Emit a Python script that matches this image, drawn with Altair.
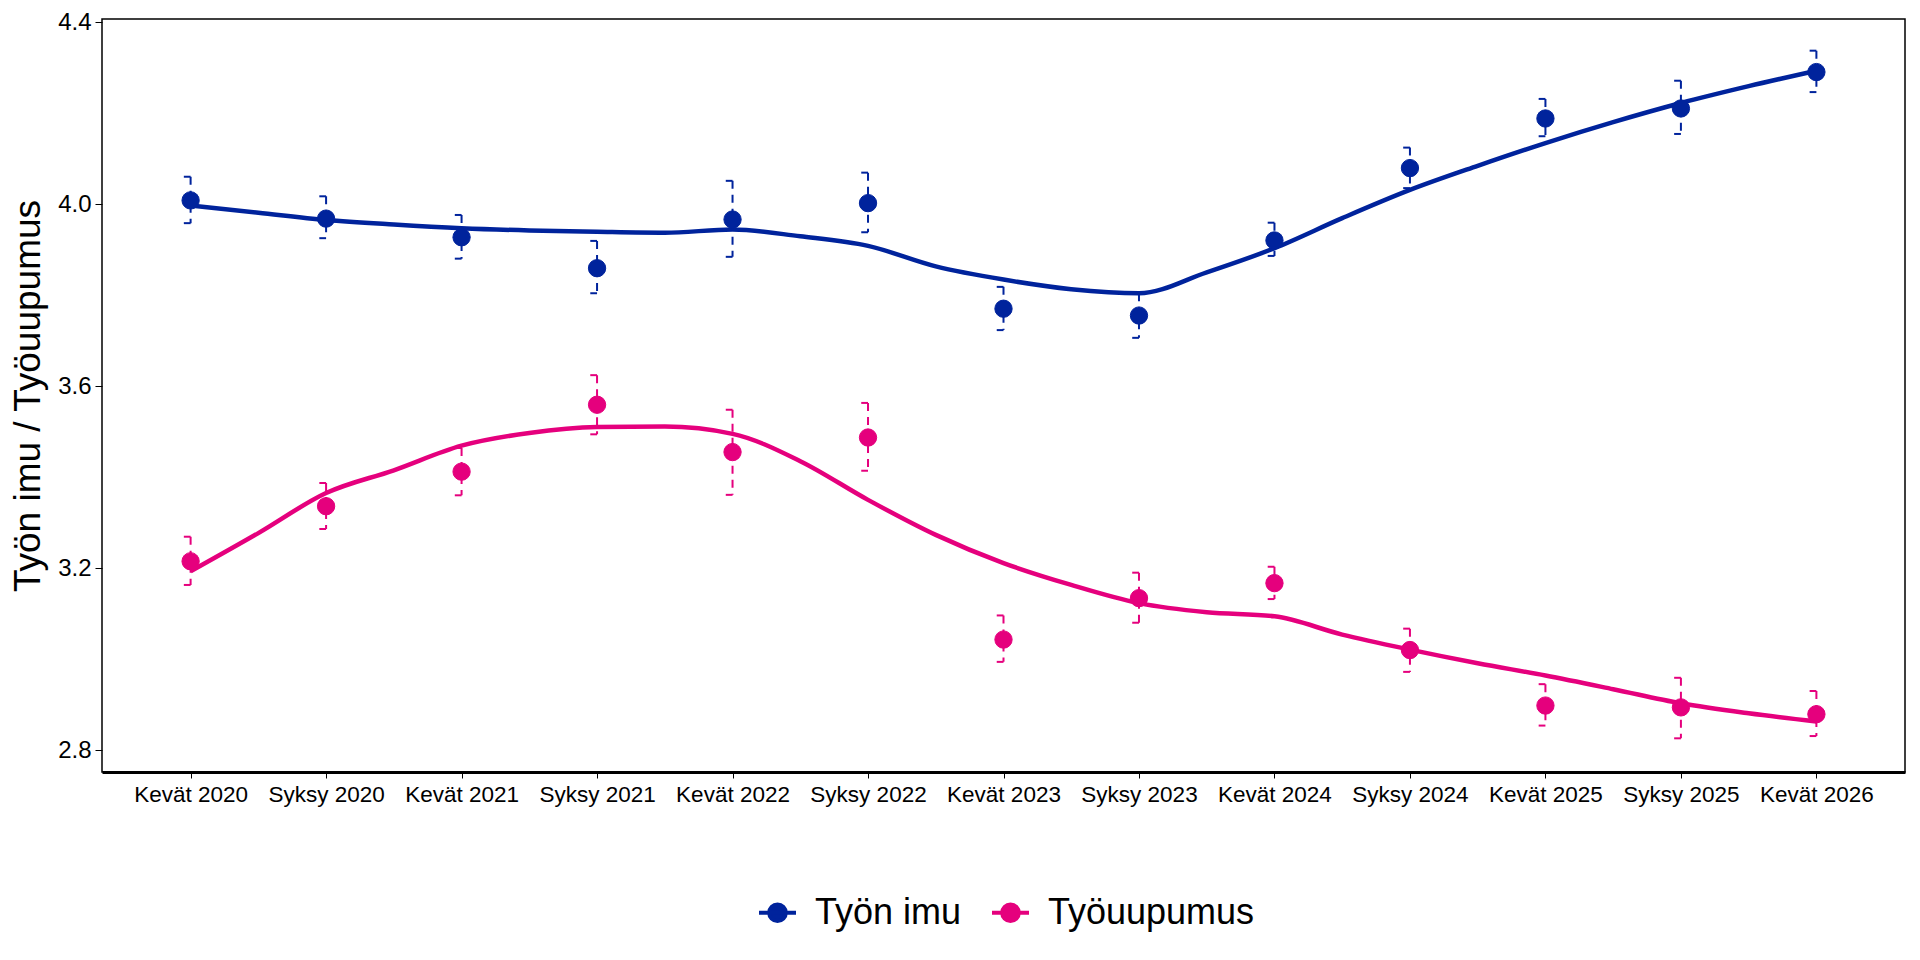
import altair as alt
import pandas as pd

# ---- data ----
categories = ["Kevät 2020", "Syksy 2020", "Kevät 2021", "Syksy 2021", "Kevät 2022",
              "Syksy 2022", "Kevät 2023", "Syksy 2023", "Kevät 2024", "Syksy 2024",
              "Kevät 2025", "Syksy 2025", "Kevät 2026"]
series = ["Työn imu", "Työuupumus"]
colors = ["#00239C", "#E5007D"]

imu_mean = [4.008, 3.968, 3.927, 3.859, 3.966, 4.002, 3.770, 3.755, 3.920, 4.079, 4.188, 4.210, 4.290]
imu_low = [3.958, 3.925, 3.880, 3.804, 3.884, 3.938, 3.723, 3.706, 3.886, 4.035, 4.149, 4.154, 4.246]
imu_high = [4.060, 4.017, 3.976, 3.919, 4.051, 4.069, 3.818, 3.804, 3.959, 4.124, 4.231, 4.271, 4.337]

uup_mean = [3.215, 3.336, 3.412, 3.559, 3.455, 3.487, 3.043, 3.134, 3.167, 3.020, 2.898, 2.894, 2.879]
uup_low = [3.163, 3.286, 3.360, 3.494, 3.361, 3.414, 2.994, 3.080, 3.132, 2.972, 2.854, 2.826, 2.831]
uup_high = [3.269, 3.387, 3.464, 3.624, 3.548, 3.563, 3.096, 3.190, 3.203, 3.067, 2.945, 2.959, 2.930]

# smoothed trend curves read at half-period steps
curve_x = [0, 0.5, 1, 1.5, 2, 2.5, 3, 3.5, 4, 4.5, 5, 5.5, 6,
           6.5, 7, 7.5, 8, 8.5, 9, 9.5, 10, 10.5, 11, 11.5, 12]
imu_curve = [3.997, 3.981, 3.965, 3.955, 3.947, 3.942, 3.939, 3.937, 3.944, 3.929, 3.908, 3.863, 3.834,
             3.813, 3.804, 3.850, 3.903, 3.969, 4.031, 4.084, 4.134, 4.180, 4.222, 4.259, 4.293]
uup_curve = [3.193, 3.277, 3.365, 3.415, 3.469, 3.497, 3.510, 3.511, 3.495, 3.435, 3.350, 3.273, 3.211,
             3.163, 3.123, 3.103, 3.094, 3.054, 3.021, 2.991, 2.964, 2.934, 2.903, 2.881, 2.863]

y_ticks = [2.8, 3.2, 3.6, 4.0, 4.4]

# ---- tables ----
rows = []
for s, m, lo, hi in [(series[0], imu_mean, imu_low, imu_high), (series[1], uup_mean, uup_low, uup_high)]:
    for i in range(len(categories)):
        rows.append({"i": i, "kausi": categories[i], "sarja": s, "ka": m[i], "ala": lo[i], "yla": hi[i]})
points = pd.DataFrame(rows)

crow = []
for s, c in [(series[0], imu_curve), (series[1], uup_curve)]:
    for x, y in zip(curve_x, c):
        crow.append({"x": x, "sarja": s, "y": y})
curves = pd.DataFrame(crow)

# ---- scales / axes ----
x_scale = alt.Scale(domain=[-0.654, 12.654], nice=False, zero=False)
y_scale = alt.Scale(domain=[2.752, 4.4066], nice=False, zero=False)

label_expr = "[" + ",".join("'" + c + "'" for c in categories) + "][datum.value]"

x_axis = alt.Axis(values=list(range(len(categories))), labelExpr=label_expr, title=None,
                  grid=False, tickSize=6, labelPadding=5, labelFontSize=22.5,
                  labelColor="black", tickColor="black", tickWidth=1,
                  domainColor="black", domainWidth=3, labelFlush=False, labelOverlap=False)
y_axis = alt.Axis(values=y_ticks, format=".1f", title="Työn imu / Työuupumus",
                  grid=False, tickSize=7, labelPadding=4, labelFontSize=24,
                  labelColor="black", tickColor="black", domain=False,
                  titleFontSize=37, titleFontWeight="normal", titleColor="black",
                  titlePadding=10)

legend_symbol = ("M-1,0L1,0M-0.45,0A0.45,0.45,0,1,0,0.45,0A0.45,0.45,0,1,0,-0.45,0Z")
legend = alt.Legend(orient="none", legendX=655, legendY=873, direction="horizontal",
                    title=None, labelFontSize=36, labelColor="black",
                    symbolType=legend_symbol, symbolSize=1369, symbolStrokeWidth=4,
                    symbolOpacity=1, labelOffset=17, columnPadding=22, labelLimit=0,
                    padding=0)

stroke_scale = alt.Scale(domain=series, range=colors)
fill_scale = alt.Scale(domain=series, range=colors)

base_pts = alt.Chart(points)

line = alt.Chart(curves).mark_line(strokeWidth=4.5, interpolate="monotone").encode(
    x=alt.X("x:Q", scale=x_scale, axis=x_axis),
    y=alt.Y("y:Q", scale=y_scale, axis=y_axis),
    stroke=alt.Stroke("sarja:N", scale=stroke_scale, legend=None),
    detail="sarja:N",
)

err = base_pts.mark_rule(strokeWidth=2, strokeDash=[8, 6]).encode(
    x=alt.X("i:Q", scale=x_scale, axis=x_axis),
    y=alt.Y("yla:Q", scale=y_scale, axis=y_axis),
    y2="ala:Q",
    stroke=alt.Stroke("sarja:N", scale=stroke_scale, legend=None),
)

cap_top = base_pts.transform_calculate(i0="datum.i - 0.05").mark_rule(strokeWidth=2).encode(
    x=alt.X("i0:Q", scale=x_scale, axis=x_axis),
    x2="i:Q",
    y=alt.Y("yla:Q", scale=y_scale, axis=y_axis),
    stroke=alt.Stroke("sarja:N", scale=stroke_scale, legend=None),
)
cap_bot = base_pts.transform_calculate(i0="datum.i - 0.05").mark_rule(strokeWidth=2).encode(
    x=alt.X("i0:Q", scale=x_scale, axis=x_axis),
    x2="i:Q",
    y=alt.Y("ala:Q", scale=y_scale, axis=y_axis),
    stroke=alt.Stroke("sarja:N", scale=stroke_scale, legend=None),
)

pts = base_pts.mark_circle(size=300, opacity=1, strokeWidth=1).encode(
    x=alt.X("i:Q", scale=x_scale, axis=x_axis),
    y=alt.Y("ka:Q", scale=y_scale, axis=y_axis),
    fill=alt.Fill("sarja:N", scale=fill_scale, legend=legend),
    stroke=alt.Stroke("sarja:N", scale=stroke_scale, legend=legend),
)

chart = alt.layer(line, err, cap_top, cap_bot, pts).resolve_legend(
    stroke="independent", fill="independent"
).properties(
    width=1803, height=753,
    autosize=alt.AutoSizeParams(type="none"),
    padding={"left": 94, "top": 11, "right": 7, "bottom": 176},
).configure(
    font="Liberation Sans",
).configure_view(
    stroke="black", strokeWidth=1.5,
)

chart.save("out.html", embed_options={"renderer": "svg", "actions": False})
